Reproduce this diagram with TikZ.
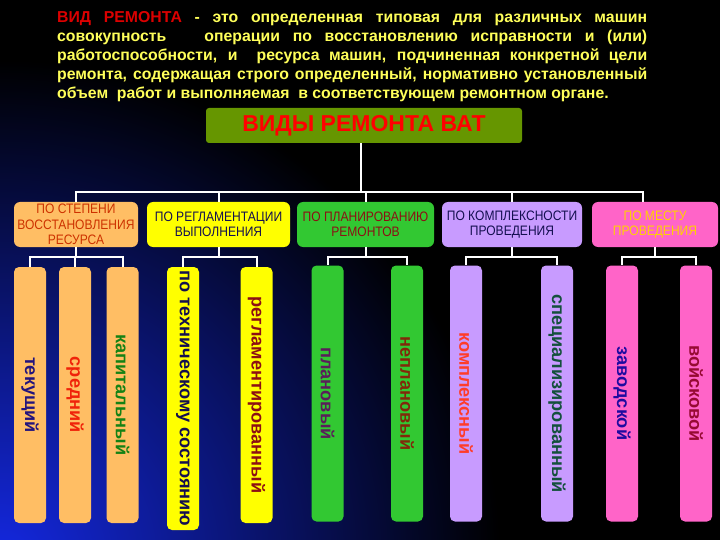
\documentclass[tikz,border=0pt]{standalone}
\usepackage{fontspec}
\setmainfont{Liberation Sans}
\newfontfamily\narrowfont[FakeStretch=0.88]{Liberation Sans}

\definecolor{bgblue}{RGB}{20,40,225}
\definecolor{headyellow}{RGB}{255,255,90}
\definecolor{headred}{RGB}{220,0,0}
\definecolor{mainfill}{RGB}{102,150,0}
\definecolor{orangefill}{RGB}{255,190,100}
\definecolor{yellowfill}{RGB}{255,255,0}
\definecolor{greenfill}{RGB}{50,200,50}
\definecolor{purplefill}{RGB}{200,155,255}
\definecolor{pinkfill}{RGB}{255,100,200}
\definecolor{tnavy}{RGB}{35,20,125}
\definecolor{tred}{RGB}{240,35,10}
\definecolor{tgreen}{RGB}{20,130,20}
\definecolor{tdark}{RGB}{20,15,80}
\definecolor{tmaroon}{RGB}{140,15,20}
\definecolor{tplum}{RGB}{90,30,90}
\definecolor{tbrown}{RGB}{130,40,10}
\definecolor{torange}{RGB}{255,60,40}
\definecolor{tteal}{RGB}{20,80,60}
\definecolor{tblue}{RGB}{30,10,160}
\definecolor{tcrimson}{RGB}{150,10,50}
\definecolor{tgold}{RGB}{255,210,0}
\definecolor{tcat}{RGB}{205,50,0}

\begin{document}
\begin{tikzpicture}[x=1pt,y=-1pt,
	cat/.style={rounded corners=6pt,minimum height=45pt,inner sep=1pt,align=center,
		font=\narrowfont\fontsize{13.7}{15.5}\selectfont},
	kind/.style={rounded corners=5pt,minimum width=32pt,minimum height=256pt,inner sep=0pt,
		font=\bfseries\fontsize{18.2}{18}\selectfont},
	wire/.style={draw=white,line width=2pt}]
	
	% background
	\useasboundingbox (0,0) rectangle (720,540);
	\fill[black] (0,0) rectangle (720,540);
	\begin{scope}
		\clip (0,0) rectangle (720,540);
		\shade[inner color=bgblue,outer color=black] (0,560) circle (500);
	\end{scope}
	
	% definition
	\node[anchor=north west,inner sep=0pt,text width=590pt,align=justify,text=headyellow,
		font=\bfseries\fontsize{15.8}{19}\selectfont] (def) at (57,11)
		{\textcolor{headred}{ВИД РЕМОНТА} - это определенная типовая для различных машин\linebreak
		 совокупность \ \ операции по восстановлению исправности и (или)\linebreak
		 работоспособности, и \ ресурса машин, подчиненная конкретной цели\linebreak
		 ремонта, содержащая строго определенный, нормативно установленный\linebreak
		 объем \ работ и выполняемая \ в соответствующем ремонтном органе.};
	
	% top
	\node[rounded corners=3pt,fill=mainfill,minimum width=316pt,minimum height=35pt,
		text=red,font=\bfseries\fontsize{23}{23}\selectfont] (m) at (364,125.5) {ВИДЫ РЕМОНТА ВАТ};
	
	% groups
	\node[cat,fill=orangefill,text=tcat,minimum width=124pt] (c1) at (76,224.5) {ПО СТЕПЕНИ\\ВОССТАНОВЛЕНИЯ\\РЕСУРСА};
	\node[cat,fill=yellowfill,text=tdark,minimum width=143pt] (c2) at (218.5,224.5) {ПО РЕГЛАМЕНТАЦИИ\\ВЫПОЛНЕНИЯ};
	\node[cat,fill=greenfill,text=tmaroon,minimum width=137pt] (c3) at (365.5,224.5) {ПО ПЛАНИРОВАНИЮ\\РЕМОНТОВ};
	\node[cat,fill=purplefill,text=tdark,minimum width=140pt] (c4) at (512,224.5) {ПО КОМПЛЕКСНОСТИ\\ПРОВЕДЕНИЯ};
	\node[cat,fill=pinkfill,text=tgold,minimum width=126pt] (c5) at (655,224.5) {ПО МЕСТУ\\ПРОВЕДЕНИЯ};
	
	% kinds
	\node[kind,fill=orangefill,text=tnavy] (k1) at (30,395) {\rotatebox{-90}{текущий}};
	\node[kind,fill=orangefill,text=tred] (k2) at (75,395) {\rotatebox{-90}{средний}};
	\node[kind,fill=orangefill,text=tgreen] (k3) at (122.5,395) {\rotatebox{-90}{капитальный}};
	\node[kind,fill=yellowfill,text=tdark,minimum height=263pt] (k4) at (183,398.5) {\rotatebox{-90}{по техническому состоянию}};
	\node[kind,fill=yellowfill,text=tmaroon] (k5) at (256.5,395) {\rotatebox{-90}{регламентированный}};
	\node[kind,fill=greenfill,text=tplum] (k6) at (327.5,393.5) {\rotatebox{-90}{плановый}};
	\node[kind,fill=greenfill,text=tbrown] (k7) at (407,393.5) {\rotatebox{-90}{неплановый}};
	\node[kind,fill=purplefill,text=torange] (k8) at (466,393.5) {\rotatebox{-90}{комплексный}};
	\node[kind,fill=purplefill,text=tteal] (k9) at (557,393.5) {\rotatebox{-90}{специализированный}};
	\node[kind,fill=pinkfill,text=tblue] (k10) at (622,393.5) {\rotatebox{-90}{заводской}};
	\node[kind,fill=pinkfill,text=tcrimson] (k11) at (696,393.5) {\rotatebox{-90}{войсковой}};
	
	% wires
	\coordinate (bus) at (361,192);
	\draw[wire] (m.south -| bus) -- (bus);
	\foreach \c in {c1,c2,c3,c4}
		\draw[wire] (bus) -| (\c.north);
	\draw[wire] (bus) -| ([xshift=-12pt]c5.north);
	
	\foreach \c/\k in {c1/k1,c1/k2,c1/k3,c2/k4,c2/k5,c3/k6,c3/k7,c4/k8,c4/k9,c5/k10,c5/k11}
		\draw[wire] (\c.south) -- ++(0,10) -| (\k.north);
	
\end{tikzpicture}
\end{document}
